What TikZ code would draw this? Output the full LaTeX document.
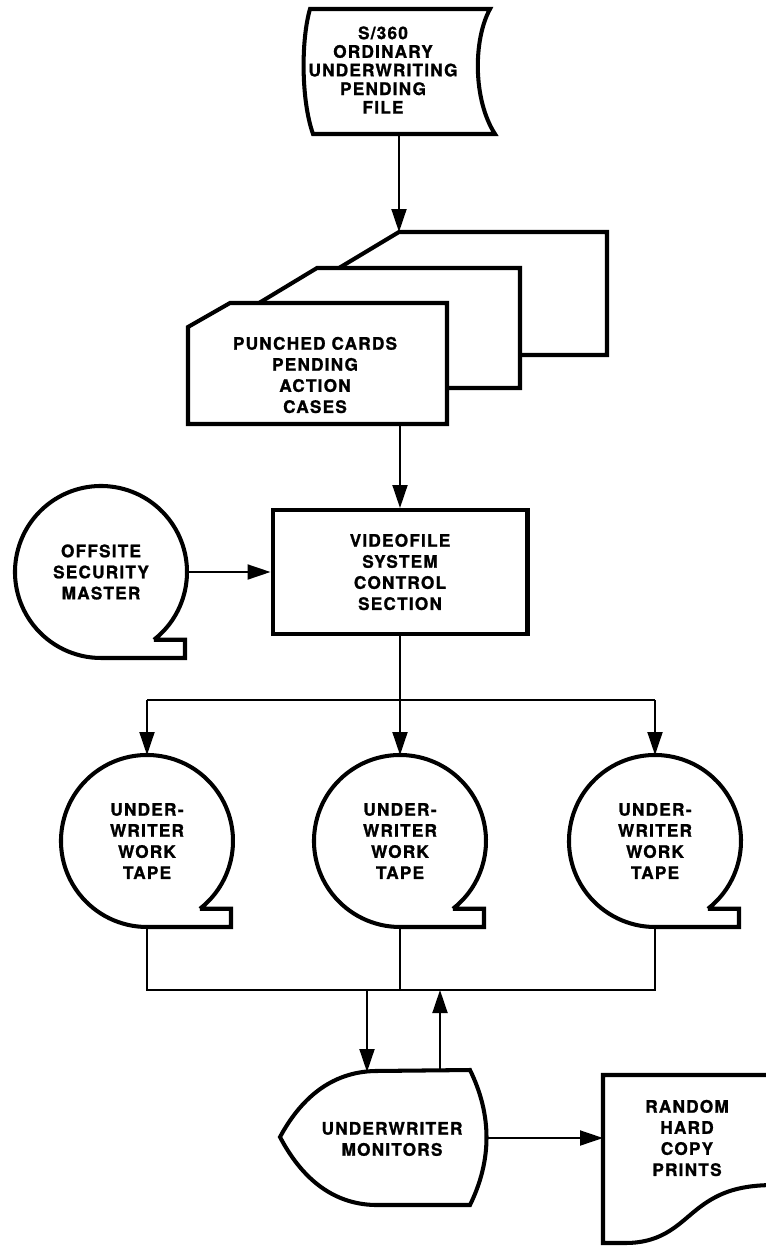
\documentclass[tikz,border=0pt]{standalone}
\usepackage{fontspec}
\newfontfamily\chartfont{TeX Gyre Heros}[LetterSpace=7,FakeBold=1.2]
\usetikzlibrary{arrows.meta}

\begin{document}
\begin{tikzpicture}[x=0.02cm,y=0.02cm,>={Triangle[length=4.6mm,width=3mm]},
  lbl/.style={align=center,inner sep=0pt,font=\chartfont\bfseries\fontsize{9.8}{12}\selectfont},
  outline/.style={line width=2.3pt,line join=miter},
  conn/.style={line width=1.1pt},
  arr/.style={conn,->},
  tape/.style={lbl,circle,minimum size=3.44cm,outer sep=0pt}]
		\useasboundingbox (0,0) rectangle (766,-1247);

		% online file
		\draw[outline] (310,-9) -- (490,-9) .. controls (473,-40) and (473,-100) .. (495,-134) -- (313,-134) .. controls (301,-100) and (301,-40) .. cycle;
		\node[lbl,font=\chartfont\bfseries\fontsize{9.8}{10.6}\selectfont] (file) at (383,-70) {S/360\\ORDINARY\\UNDERWRITING\\PENDING\\FILE};
		\coordinate (fileout) at (399,-134);

		% card deck, back to front
		\draw[outline,fill=white] (399,-232) -- (607,-232) -- (607,-355) -- (339,-355) -- (339,-268) -- cycle;
		\draw[outline,fill=white] (317,-268) -- (520,-268) -- (520,-388) -- (259,-388) -- (259,-303) -- cycle;
		\draw[outline,fill=white] (230,-303) -- (447,-303) -- (447,-424) -- (188,-424) -- (188,-327) -- cycle;
		\node[lbl] (cards) at (315,-375) {PUNCHED CARDS\\PENDING\\ACTION\\CASES};
		\coordinate (cardin) at (399,-232);
		\coordinate (cardout) at (400,-424);

		\node[lbl,draw,outline,minimum width=5.1cm,minimum height=2.48cm] (vfs) at (400,-572) {VIDEOFILE\\SYSTEM\\CONTROL\\SECTION};

		% tapes
		\node[tape] (off) at (101,-572) {OFFSITE\\SECURITY\\MASTER};
		\node[tape] (t1) at (147,-841) {UNDER-\\WRITER\\WORK\\TAPE};
		\node[tape] (t2) at (400,-841) {UNDER-\\WRITER\\WORK\\TAPE};
		\node[tape] (t3) at (655,-841) {UNDER-\\WRITER\\WORK\\TAPE};
		\foreach \n in {off,t1,t2,t3}
			\draw[outline] (\n.-52) arc[start angle=-52,end angle=270,radius=86] -- ++(84,0) |- (\n.-52);

		% display and document
		\node[lbl] (mon) at (392,-1139) {UNDERWRITER\\MONITORS};
		\draw[outline] (280,-1137) .. controls (300,-1100) and (330,-1072) .. (375,-1071) -- (470,-1070) .. controls (492,-1115) and (492,-1160) .. (470,-1205) -- (375,-1205) .. controls (330,-1204) and (300,-1175) .. cycle;
		\node[lbl] (prints) at (687,-1138) {RANDOM\\HARD\\COPY\\PRINTS};
		\draw[outline] (775,-1075) -- (603,-1075) -- (603,-1243) -- (625,-1243) .. controls (665,-1243) and (680,-1222) .. (700,-1207) .. controls (720,-1192) and (740,-1185) .. (775,-1185);

		\coordinate (br) at (400,-700);
		\coordinate (bus) at (400,-990);
		\coordinate (monin) at (367,-1072);
		\coordinate (monout) at (440,-1070);
		\coordinate (monR) at (487,-1138);
		\coordinate (docL) at (603,-1138);

		\draw[arr] (fileout) -- (cardin);
		\draw[arr] (cardout) -- (vfs.north);
		\draw[arr] (off.east) -- (vfs.west);
		\draw[arr] (vfs.south) -- (t2.north);
		\draw[conn] (t1.north |- br) -- (t3.north |- br);
		\draw[arr] (t1.north |- br) -- (t1.north);
		\draw[arr] (t3.north |- br) -- (t3.north);

		\draw[conn] (t1.south) |- (t3.south |- bus) -- (t3.south);
		\draw[conn] (t2.south) -- (t2.south |- bus);
		\draw[arr] (monin |- bus) -- (monin);
		\draw[arr] (monout) -- (monout |- bus);
		\draw[arr] (monR) -- (docL);
		\end{tikzpicture}
\end{document}
